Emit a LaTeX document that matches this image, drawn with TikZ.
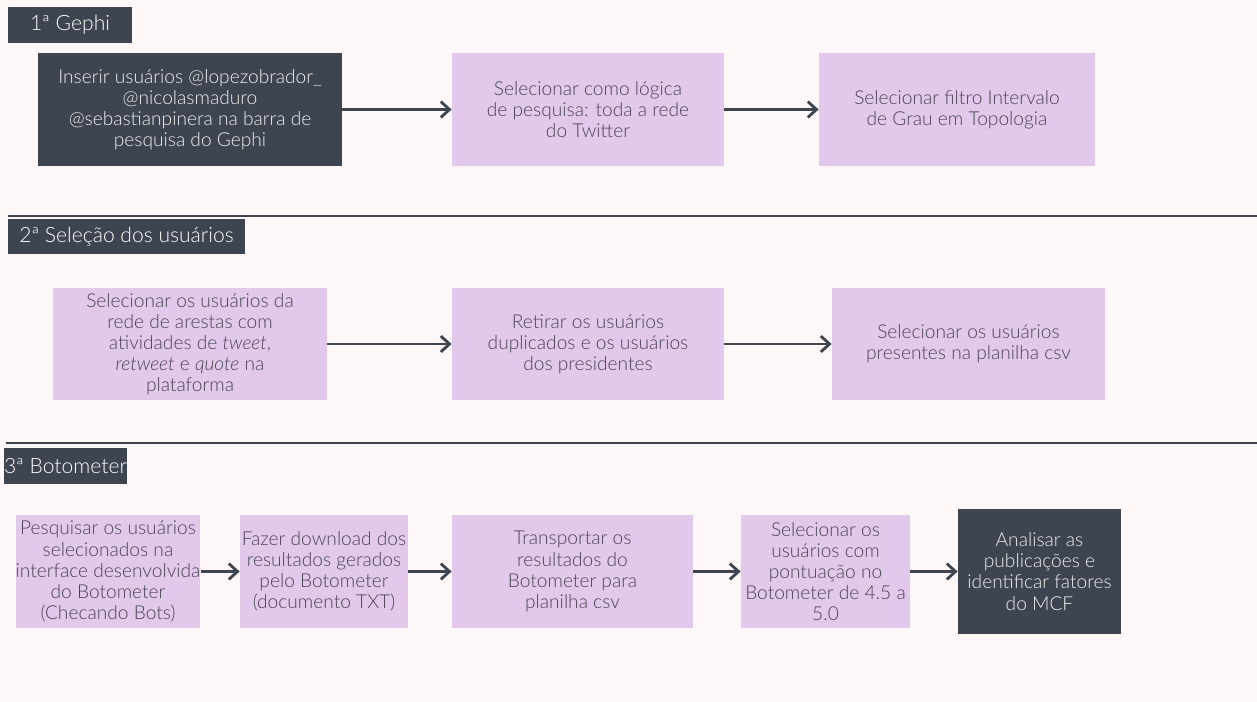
\documentclass[tikz,border=0pt]{standalone}
\usepackage{fontspec}
\setmainfont{Lato Light}[ItalicFont={Lato Light Italic}]
\usetikzlibrary{arrows.meta}
\definecolor{bgpink}{HTML}{FDF8F7}
\definecolor{slate}{HTML}{3F4451}
\definecolor{lilac}{HTML}{E2C9EC}
\definecolor{inktext}{HTML}{4A4452}
\begin{document}
\begin{tikzpicture}[x=0.02cm, y=-0.02cm,
    every node/.style={font=\fontsize{10.9}{12}\selectfont, align=center, inner sep=0pt},
    stage/.style={fill=slate, text=white, minimum height=0.72cm, font=\fontsize{12}{13}\selectfont},
    lilacbox/.style={fill=lilac, text=inktext, minimum height=2.26cm},
    darkbox/.style={fill=slate, text=white!94!black, minimum height=2.26cm},
    flow/.style={-{Straight Barb[length=5pt,width=9pt,line width=1.6pt]}, line width=1.7pt, draw=slate},
    rule/.style={line width=1.6pt, draw=slate}]
    \fill[bgpink] (0,0) rectangle (1257,702);
    \useasboundingbox (0,0) rectangle (1257,702);

    % 1a etapa
    \node[stage, minimum width=2.48cm] (h1) at (70,25) {1ª Gephi};
    \node[darkbox, minimum width=6.08cm] (a1) at (190,109.5) {Inserir usuários @lopezobrador\_\\@nicolasmaduro\\@sebastianpinera na barra de\\pesquisa do Gephi};
    \node[lilacbox, minimum width=5.44cm] (a2) at (588,109.5) {Selecionar como lógica\\de pesquisa: toda a rede\\do Twitter};
    \node[lilacbox, minimum width=5.52cm] (a3) at (957,109.5) {Selecionar filtro Intervalo\\de Grau em Topologia};
    \draw[flow] (a1) -- (a2);
    \draw[flow] (a2) -- (a3);

    \draw[rule] (8,216) -- (1257,216);

    % 2a etapa
    \node[stage, minimum width=4.74cm] (h2) at (126.5,236.5) {2ª Seleção dos usuários};
    \node[lilacbox, minimum width=5.48cm] (b1) at (190,344) {Selecionar os usuários da\\rede de arestas com\\atividades de \textit{tweet},\\\textit{retweet} e \textit{quote} na\\plataforma};
    \node[lilacbox, minimum width=5.44cm] (b2) at (588,344) {Retirar os usuários\\duplicados e os usuários\\dos presidentes};
    \node[lilacbox, minimum width=5.46cm] (b3) at (968.5,344) {Selecionar os usuários\\presentes na planilha csv};
    \draw[flow] (b1) -- (b2);
    \draw[flow] (b2) -- (b3);

    \draw[rule] (6,443) -- (1257,443);

    % 3a etapa
    \node[stage, minimum width=2.38cm] (h3) at (65.5,466) {3ª Botometer};
    \node[lilacbox, minimum width=3.68cm] (c1) at (108,571.5) {Pesquisar os usuários\\selecionados na\\interface desenvolvida\\do Botometer\\(Checando Bots)};
    \node[lilacbox, minimum width=3.36cm] (c2) at (324,571.5) {Fazer download dos\\resultados gerados\\pelo Botometer\\(documento TXT)};
    \node[lilacbox, minimum width=4.82cm] (c3) at (572.5,571.5) {Transportar os\\resultados do\\Botometer para\\planilha csv};
    \node[lilacbox, minimum width=3.38cm] (c4) at (825.5,571.5) {Selecionar os\\usuários com\\pontuação no\\Botometer de 4.5 a\\5.0};
    \node[darkbox, minimum width=3.26cm, minimum height=2.5cm] (c5) at (1039.5,571.5) {Analisar as\\publicações e\\identificar fatores\\do MCF};
    \draw[flow] (c1) -- (c2);
    \draw[flow] (c2) -- (c3);
    \draw[flow] (c3) -- (c4);
    \draw[flow] (c4) -- (c5);
\end{tikzpicture}
\end{document}
